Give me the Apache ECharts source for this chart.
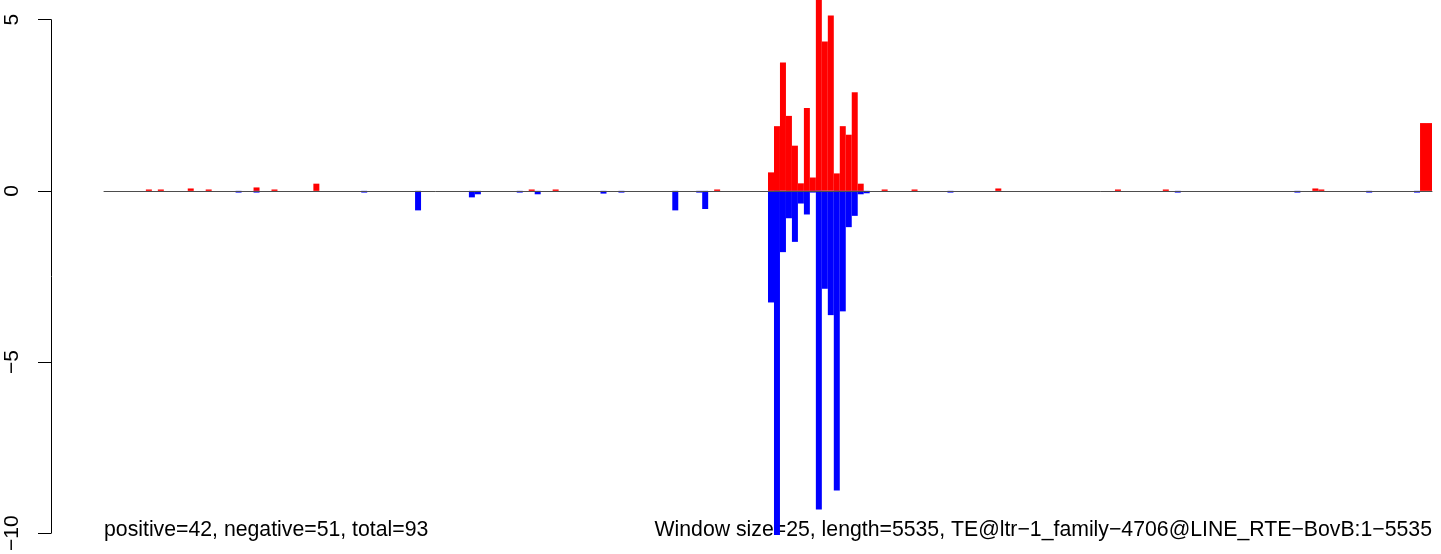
<!DOCTYPE html>
<html>
<head>
<meta charset="utf-8">
<script src="https://cdn.jsdelivr.net/npm/echarts@6/dist/echarts.min.js"></script>
<style>
html,body{margin:0;padding:0;background:#fff;}
#chart{width:1441px;height:554px;}
</style>
</head>
<body>
<div id="chart"></div>
<script>
// ---- data ----
const windowSize = 25;
const seqLength = 5535;
const binCount = 222;
const posBins = [7, 9, 14, 17, 25, 28, 35, 71, 75, 102, 111, 112, 113, 114, 115, 116, 117, 118, 119, 120, 121, 122, 123, 124, 125, 126, 130, 135, 149, 169, 177, 202, 203, 220, 221];
const posVals = [0.04, 0.04, 0.07, 0.04, 0.10, 0.04, 0.21, 0.04, 0.04, 0.04, 0.54, 1.89, 3.75, 2.19, 1.32, 0.22, 2.42, 0.39, 5.8, 4.36, 5.12, 0.51, 1.89, 1.64, 2.88, 0.21, 0.04, 0.04, 0.07, 0.04, 0.04, 0.07, 0.04, 1.98, 1.98];
const negBins = [22, 25, 43, 52, 61, 62, 69, 72, 83, 86, 95, 99, 100, 111, 112, 113, 114, 115, 116, 117, 118, 119, 120, 121, 122, 123, 124, 125, 126, 127, 141, 179, 199, 211, 219];
const negVals = [-0.05, -0.05, -0.05, -0.57, -0.19, -0.10, -0.05, -0.10, -0.08, -0.05, -0.57, -0.05, -0.53, -3.26, -10.05, -1.79, -0.80, -1.49, -0.37, -0.69, -0.05, -9.31, -2.86, -3.63, -8.75, -3.52, -1.06, -0.73, -0.10, -0.07, -0.05, -0.05, -0.05, -0.05, -0.05];
const yTicks = [-10, -5, 0, 5];
const leftNote = 'positive=42, negative=51, total=93';
const rightNote = 'Window size=25, length=5535, TE@ltr\u22121_family\u22124706@LINE_RTE\u2212BovB:1\u22125535';

// ---- build ----
const categories = [];
for (let i = 0; i < binCount; i++) categories.push(String(i * windowSize));
const posData = categories.map(() => '-');
const negData = categories.map(() => '-');
posBins.forEach((b, k) => { posData[b] = posVals[k]; });
negBins.forEach((b, k) => { negData[b] = negVals[k]; });

const chart = echarts.init(document.getElementById('chart'), null, {renderer: 'canvas'});
const FONT = '"Liberation Sans", Arial, Helvetica, sans-serif';
chart.setOption({
  animation: false,
  backgroundColor: '#ffffff',
  grid: {left: 104, width: 1328, top: 19.7, height: 517, containLabel: false},
  xAxis: {
    type: 'category',
    data: categories,
    boundaryGap: true,
    z: 10,
    axisLine: {show: true, onZero: true, lineStyle: {color: '#4d4d4d', width: 1}},
    axisTick: {show: false},
    axisLabel: {show: false},
    splitLine: {show: false}
  },
  yAxis: {
    type: 'value',
    min: yTicks[0],
    max: yTicks[yTicks.length - 1],
    interval: 5,
    offset: 53,
    axisLine: {show: true, lineStyle: {color: '#000', width: 1}},
    axisTick: {show: true, length: 13, lineStyle: {color: '#000', width: 1}},
    axisLabel: {
      rotate: 90, margin: 28, fontSize: 21, color: '#000', fontFamily: FONT,
      formatter: v => String(v).replace('-', '\u2212')
    },
    splitLine: {show: false}
  },
  series: [
    {name: 'pos', type: 'bar', data: posData, barWidth: '100%', barGap: '-100%', clip: false,
     itemStyle: {color: '#ff0000'}, z: 2},
    {name: 'neg', type: 'bar', data: negData, barWidth: '100%', barGap: '-100%', clip: false,
     itemStyle: {color: '#0000ff'}, z: 2}
  ],
  graphic: [
    {type: 'text', x: 104, y: 530.5, z: 0, style: {text: leftNote, font: '21.25px ' + FONT, fill: '#000', textAlign: 'left', textVerticalAlign: 'middle'}},
    {type: 'text', x: 1432, y: 530.5, z: 0, style: {text: rightNote, font: '21.25px ' + FONT, fill: '#000', textAlign: 'right', textVerticalAlign: 'middle'}}
  ]
});
</script>
</body>
</html>
